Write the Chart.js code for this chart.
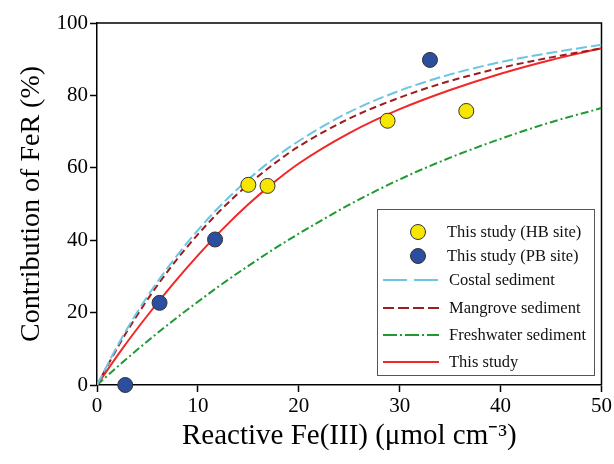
<!DOCTYPE html>
<html>
<head>
    <title>Contribution of FeR vs reactive Fe(III)</title>
    <script src="https://cdn.jsdelivr.net/npm/chart.js"></script>
    <style>
        html, body { margin: 0; padding: 0; background: #fff; }
        #wrap { width: 614px; height: 464px; }
    </style>
</head>
<body>
<div id="wrap"><canvas id="feChart" width="614" height="464"></canvas></div>
<script>
    // measured points
    const hbX = [15.0, 16.9, 28.8, 36.6];
    const hbY = [55.3, 55.0, 73.0, 75.7];
    const pbX = [2.8, 6.2, 11.7, 33.0];
    const pbY = [0.0, 22.7, 40.2, 89.8];

    // fitted curves
    const curveX = [0, 2.5, 5, 7.5, 10, 12.5, 15, 17.5, 20, 25, 30, 35, 40, 45, 50];
    const costalY = [0, 13.2, 24.5, 34.2, 42.8, 50.3, 56.8, 62.5, 67.4, 75.4, 81.3, 85.8, 89.2, 91.8, 94];
    const mangroveY = [0, 12.6, 23.6, 33.2, 41.6, 49, 55.4, 61, 65.9, 73.6, 79.4, 84, 87.6, 90.5, 93];
    const freshY = [0, 6.2, 12.1, 17.7, 23, 28.1, 32.9, 37.5, 41.8, 49.8, 56.8, 62.8, 68, 72.6, 76.5];
    const thisStudyY = [0, 10, 19.2, 27.8, 35.8, 43.2, 49.9, 55.9, 61.2, 69.6, 76.2, 81.5, 86, 89.8, 93];

    const xTicks = [0, 10, 20, 30, 40, 50];
    const yTicks = [0, 20, 40, 60, 80, 100];

    const pts = (xs, ys) => xs.map((x, i) => ({ x: x, y: ys[i] }));
    const serif = "'Liberation Serif', 'Times New Roman', serif";

    function curve(label, ys, color, dash, legendDash) {
        return {
            label: label,
            data: pts(curveX, ys),
            showLine: true,
            borderColor: color,
            backgroundColor: color,
            borderWidth: 2,
            borderDash: dash,
            legendDash: legendDash,
            pointRadius: 0,
            cubicInterpolationMode: 'monotone'
        };
    }

    // top + right frame lines
    const framePlugin = {
        id: 'frame',
        beforeDatasetsDraw(chart) {
            const a = chart.chartArea, ctx = chart.ctx;
            ctx.save();
            ctx.strokeStyle = '#000';
            ctx.lineWidth = 1.5;
            ctx.beginPath();
            ctx.moveTo(a.left, a.top);
            ctx.lineTo(a.right, a.top);
            ctx.lineTo(a.right, a.bottom);
            ctx.stroke();
            ctx.restore();
        }
    };

    // boxed legend inside the plot, lower right
    const boxLegend = {
        id: 'boxLegend',
        afterDraw(chart) {
            const ctx = chart.ctx;
            const bx = 377, by = 209, bw = 217, bh = 166;
            const rows = [232, 256, 280, 308, 335, 362];
            ctx.save();
            ctx.fillStyle = '#fff';
            ctx.fillRect(bx, by, bw, bh);
            ctx.strokeStyle = '#555';
            ctx.lineWidth = 1;
            ctx.strokeRect(bx + 0.5, by + 0.5, bw, bh);
            ctx.font = '16.5px ' + serif;
            ctx.textBaseline = 'middle';
            chart.data.datasets.forEach((ds, i) => {
                const y = rows[i];
                if (ds.showLine) {
                    ctx.strokeStyle = ds.borderColor;
                    ctx.lineWidth = 2;
                    ctx.setLineDash(ds.legendDash || []);
                    ctx.beginPath();
                    ctx.moveTo(383, y);
                    ctx.lineTo(439, y);
                    ctx.stroke();
                    ctx.setLineDash([]);
                } else {
                    ctx.beginPath();
                    ctx.arc(418, y, 7.5, 0, Math.PI * 2);
                    ctx.fillStyle = ds.backgroundColor;
                    ctx.fill();
                    ctx.strokeStyle = ds.borderColor;
                    ctx.lineWidth = 1;
                    ctx.stroke();
                }
                ctx.fillStyle = '#111';
                ctx.fillText(ds.label, ds.showLine ? 449 : 447, y + 1);
            });
            ctx.restore();
        }
    };

    new Chart(document.getElementById('feChart').getContext('2d'), {
        type: 'scatter',
        data: {
            datasets: [
                {
                    label: 'This study (HB site)',
                    data: pts(hbX, hbY),
                    backgroundColor: '#F7E600',
                    borderColor: '#333',
                    borderWidth: 1,
                    pointRadius: 7.5,
                    showLine: false,
                    clip: false
                },
                {
                    label: 'This study (PB site)',
                    data: pts(pbX, pbY),
                    backgroundColor: '#2B4E9E',
                    borderColor: '#333',
                    borderWidth: 1,
                    pointRadius: 7.5,
                    showLine: false,
                    clip: false
                },
                curve('Costal sediment', costalY, '#6CC5E3', [11, 4], [24, 7]),
                curve('Mangrove sediment', mangroveY, '#A01C1C', [7, 4], [11, 4]),
                curve('Freshwater sediment', freshY, '#1E9A32', [8, 3, 2, 3], [14, 3, 2, 3]),
                curve('This study', thisStudyY, '#F02828', [], [])
            ]
        },
        options: {
            responsive: false,
            animation: false,
            layout: { padding: { top: 23, right: 11, left: 0, bottom: 0 } },
            plugins: {
                legend: { display: false },
                tooltip: { enabled: false }
            },
            scales: {
                x: {
                    type: 'linear',
                    min: 0,
                    max: 50,
                    afterFit: s => { s.height = 79; },
                    afterBuildTicks: s => { s.ticks = xTicks.map(v => ({ value: v })); },
                    ticks: {
                        color: '#000',
                        font: { family: serif, size: 21 },
                        padding: 2,
                        maxRotation: 0
                    },
                    grid: { drawOnChartArea: false, color: '#000', tickLength: 7, tickWidth: 1.5 },
                    border: { color: '#000', width: 1.5 },
                    title: {
                        display: true,
                        text: 'Reactive Fe(III) (\u03bcmol cm\u207b\u00b3)',
                        color: '#000',
                        font: { family: serif, size: 29 },
                        padding: { top: 0, bottom: 10 }
                    }
                },
                y: {
                    type: 'linear',
                    min: 0,
                    max: 100,
                    afterFit: s => { s.width = 97; },
                    afterBuildTicks: s => { s.ticks = yTicks.map(v => ({ value: v })); },
                    ticks: {
                        color: '#000',
                        font: { family: serif, size: 21 },
                        padding: 2
                    },
                    grid: { drawOnChartArea: false, color: '#000', tickLength: 7, tickWidth: 1.5 },
                    border: { color: '#000', width: 1.5 },
                    title: {
                        display: true,
                        text: 'Contribution of FeR (%)',
                        color: '#000',
                        font: { family: serif, size: 28 },
                        padding: { top: 15, bottom: 0 }
                    }
                }
            }
        },
        plugins: [framePlugin, boxLegend]
    });
</script>
</body>
</html>
